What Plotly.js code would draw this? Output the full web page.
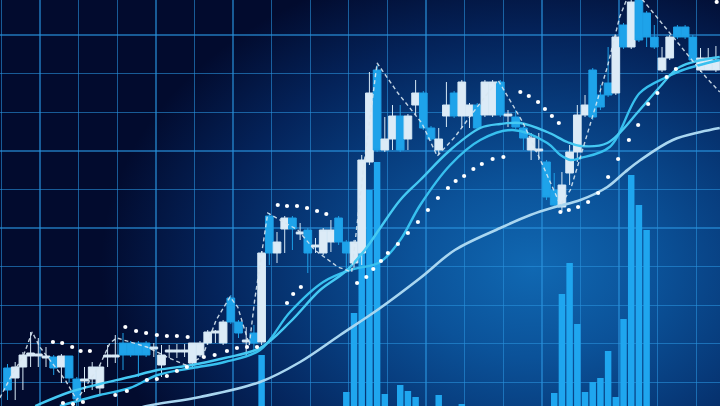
<!DOCTYPE html>
<html>
<head>
<meta charset="utf-8">
<script src="https://cdn.plot.ly/plotly-3.0.1.min.js"></script>
<style>
html,body{margin:0;padding:0;width:720px;height:406px;overflow:hidden;}
body{background:
 radial-gradient(ellipse 60% 78% at 74% 66%, #1068b2 0%, #0b5299 28%, #073a7a 52%, #04235a 74%, #020b2e 100%);}
#chart{width:720px;height:406px;}
</style>
</head>
<body>
<div id="chart"></div>
<script>
// Candle index (time) 0..92
const candleIdx = Array.from({length: 93}, (_, k) => k);

const openVals = [38,28,39,50,50,48,49,39,50,27, 25,27,18,49,49,63,63,63,63,57,
  41,54,54,54,43,51,63,73,63,108, 84,64,73,64,190,153,177,188,172,176,
  159,153,164,188,164,143,153,244,336,256, 267,290,267,301,313,278,256,290,313,290,
  290,301,291,291,324,290,289,278,256,255, 244,216,199,233,254,291,336,311,323,313,
  381,359,408,393,369,336,348,379,379,369, 336,336,336];
const closeVals = [16,39,51,53,52,50,38,50,28,7, 27,39,39,51,51,51,51,51,51,59,
  51,56,56,56,63,63,74,75,84,84, 73,66,63,153,153,164,188,177,174,153,
  161,176,176,164,153,164,246,313,256,267, 290,256,290,313,278,267,267,301,290,324,
  301,278,324,324,291,292,279,268,268,257, 209,201,221,254,291,301,289,299,311,369,
  359,404,366,369,359,348,369,369,369,346, 348,348,346];
const highVals = [42,44,54,74,68,59,51,52,50,29, 39,44,41,61,71,73,65,65,65,63,
  61,61,62,62,63,65,76,76,86,111, 86,79,81,155,193,174,190,190,183,178,
  168,178,186,190,166,166,251,334,341,289, 301,301,292,326,315,280,278,324,315,326,
  303,303,326,326,326,296,296,280,273,273, 246,233,234,261,301,311,338,321,359,371,
  383,410,412,395,381,359,371,381,381,371, 358,358,360];
const lowVals = [6,6,16,39,39,39,31,23,24,0, 14,16,11,39,43,36,49,29,49,49,
  29,48,48,49,38,49,61,63,61,82, 68,49,56,61,141,143,153,156,166,133,
  153,151,154,161,136,138,141,241,254,254, 256,254,256,291,276,265,251,279,288,278,
  278,276,289,289,289,279,277,256,246,246, 206,199,194,221,244,289,286,296,309,311,
  357,357,364,359,357,334,346,367,367,344, 334,336,334];

// Volume bars
const volIdx = [33,44,45,46,47,48,49,51,52,53,56,59,71,72,73,74,75,76,77,78,79,80,81,82,83];
const volVals = [51,14,93,156,216,244,12,21,15,9,11,2,13,112,143,82,14,24,28,55,9,87,231,201,176];

// Slow moving average
const slowX = [16,18.1,25,32.8,38,43.2,48.4,53.6,58.1,64,67.9,71.1,74.4,77.9,80.2,82.2,86.4,90,92.5];
const slowY = [-5,0,9,24,44,71,98,128,156,178,191,199,206,219,234,246,266,274,278];

// Fast moving averages
const maAX = [3.6,8.1,12,15.9,19.5,24,28.2,32.8,36.7,40.6,43.8,46.4,48.4,51,53.6,57.5,61.4,64,66.6,70.1,72.7,74.4,77.9,82.1,84.7,87.3,92.5];
const maAY = [0,14,22,29,36,41,48,58,84,116,134,156,178,206,226,256,278,282,283,274,264,260,263,296,319,339,349];
const maBX = [6.8,12,15.9,19.5,24,28.2,32.8,36.7,41,44.5,48.4,51,53.6,57.5,61.4,65.6,70.1,71.8,73.1,74.4,78.2,82.1,85.6,87.7,92.5];
const maBY = [0,11,18,31,38,44,56,94,124,136,144,166,201,241,266,276,263,251,246,248,259,313,329,336,346];

// Dashed zig-zag (swing line)
const zigX = [-1,0.7,2,3.2,4.2,7.5,9,10.3,12,13.3,14.2,18.1,20.7,23.1,25.3,27.1,28.9,29.9,31.4,32.1,33.8,37.7,39.9,42.9,44.7,46.2,48,50.7,53.8,55.8,58.1,60.5,63.7,66.9,69.5,71.8,73.1,74.4,76,77.9,79.5,80.8,82.5,86,88.6,90.8,92.5];
const zigY = [8,33,49,74,59,26,6,21,41,63,68,59,49,41,49,86,109,99,61,106,193,176,156,139,134,236,343,313,283,250,269,294,326,284,241,201,216,249,289,339,389,414,406,373,348,328,314];

// Dotted indicator
const dotX = [5.9,7.1,8.4,9.5,10.7,
  7.2,8.5,9.8,14,15.5,18.1,19.4,20.7,22,23.3,25.5,26.9,28.5,29.8,31.1,32.4,
  15.3,16.7,18,19.4,20.7,22,23.4,
  35.1,36.3,37.6,38.9,40.2,41.4,
  36.3,37.1,38.1,
  45.4,46.6,47.5,48.5,49.4,50.7,52,53.3,54.6,55.9,57.2,58.2,59.3,60.5,61.6,63,64.4,
  66.6,67.7,68.9,69.8,70.7,71.6,
  71.8,72.9,74.1,75.4,76.7,78,79.3,80.7,81.9,83.2,84.4,85.6,86.8,
  92.1];
const dotY = [64,63,59,55,55,
  3,2,4,11,15,26,27,30,35,39,49,51,55,58,59,59,
  79,75,73,71,70,70,69,
  201,200,200,198,195,192,
  103,112,119,
  123,129,137,145,153,162,173,184,196,208,218,225,230,237,242,247,249,
  314,310,304,297,290,283,
  194,196,199,204,213,229,247,266,281,302,313,329,337,
  404];

const traces = [
  {type:'bar', x: volIdx, y: volVals, width: 0.84, marker:{color:'#1fa6ef', line:{width:0}}, hoverinfo:'skip'},
  {type:'scatter', mode:'lines', x: slowX, y: slowY, line:{color:'#a9d6f0', width:2.6, shape:'spline', smoothing:1}, hoverinfo:'skip'},
  {type:'candlestick', x: candleIdx, open: openVals, high: highVals, low: lowVals, close: closeVals,
    whiskerwidth: 0,
    increasing:{line:{color:'#d6e8f5', width:1}, fillcolor:'#dcebf7'},
    decreasing:{line:{color:'#1d9fe6', width:1}, fillcolor:'#1ea3ea'},
    hoverinfo:'skip'},
  {type:'scatter', mode:'lines', x: maBX, y: maBY, line:{color:'#37c0ef', width:2.4, shape:'spline', smoothing:1}, hoverinfo:'skip'},
  {type:'scatter', mode:'lines', x: maAX, y: maAY, line:{color:'#45c9f3', width:2.4, shape:'spline', smoothing:1}, hoverinfo:'skip'},
  {type:'scatter', mode:'lines', x: zigX, y: zigY, line:{color:'rgba(215,230,240,0.9)', width:1.4, dash:'4px,3px'}, hoverinfo:'skip'},
  {type:'scatter', mode:'markers', x: dotX, y: dotY, marker:{color:'#ffffff', size:4.2, line:{width:0}}, hoverinfo:'skip'}
];

const gridColor = 'rgba(40,145,220,0.6)';
const layout = {
  width:720, height:406,
  margin:{l:0,r:0,t:0,b:0,pad:0},
  paper_bgcolor:'rgba(0,0,0,0)', plot_bgcolor:'rgba(0,0,0,0)',
  showlegend:false,
  boxgap:0,
  boxgroupgap:0,
  bargap:0.1,
  xaxis:{range:[-0.974,92.53], tickmode:'linear', tick0:4.22, dtick:5.013, showgrid:true, gridcolor:gridColor, gridwidth:1.4,
    showticklabels:false, zeroline:false, showline:false, ticks:'', rangeslider:{visible:false}, fixedrange:true},
  yaxis:{range:[0,406], tickmode:'linear', tick0:23.6, dtick:38.6, showgrid:true, gridcolor:gridColor, gridwidth:1.4,
    showticklabels:false, zeroline:false, showline:false, ticks:'', fixedrange:true}
};
Plotly.newPlot('chart', traces, layout, {staticPlot:true, displayModeBar:false});
</script>
</body>
</html>
